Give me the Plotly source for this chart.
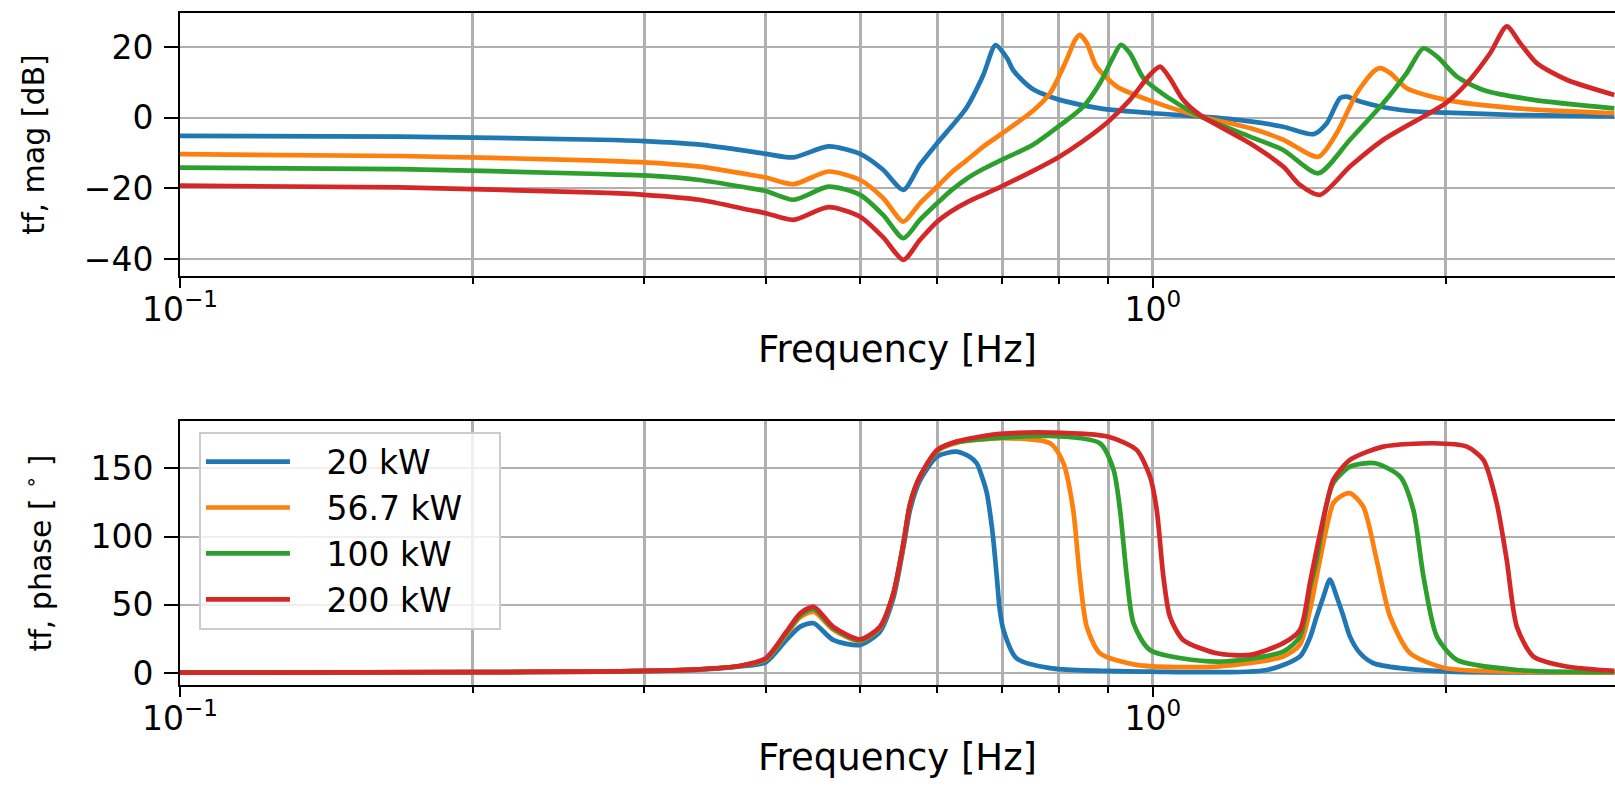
import plotly.graph_objects as go

# Operating points (legend entries) and their line colours
labels = ["20 kW", "56.7 kW", "100 kW", "200 kW"]
colors = ["#1f77b4", "#ff7f0e", "#2ca02c", "#d62728"]

# ---- Magnitude of the transfer function [dB] -------------------------------
f_mag_20 = [0.1, 0.168, 0.27, 0.3, 0.342, 0.385, 0.4, 0.427, 0.464, 0.5, 0.528, 0.554, 0.576,
            0.6, 0.643, 0.669, 0.689, 0.708, 0.718, 0.733, 0.753, 0.784, 0.815, 0.882, 1.0,
            1.118, 1.258, 1.361, 1.462, 1.509, 1.557, 1.582, 1.633, 1.725, 1.867, 2.0, 2.366,
            2.98]
mag_20 = [-5.1, -5.3, -6.2, -6.6, -7.6, -9.5, -10.2, -11.2, -8.1, -10.2, -14.7, -20.4, -13.3,
          -7.2, 2.8, 12.0, 20.6, 16.9, 13.6, 10.8, 8.1, 6.0, 4.6, 2.7, 1.3,
          0.4, -1.0, -2.5, -4.6, -1.5, 5.6, 6.0, 4.6, 3.0, 1.8, 1.5, 0.8,
          0.4]

f_mag_57 = [0.1, 0.168, 0.27, 0.3, 0.342, 0.385, 0.4, 0.427, 0.464, 0.5, 0.528, 0.554, 0.576,
            0.6, 0.62, 0.643, 0.669, 0.699, 0.753, 0.784, 0.815, 0.832, 0.841, 0.855, 0.875,
            0.918, 1.0, 1.118, 1.258, 1.361, 1.479, 1.545, 1.62, 1.685, 1.712, 1.753, 1.823,
            2.0, 2.366, 2.98]
mag_57 = [-10.3, -10.8, -12.1, -12.6, -13.8, -16.1, -16.9, -18.8, -15.2, -17.6, -22.7, -29.4, -24.2,
          -19.5, -15.6, -12.1, -8.2, -4.5, 2.0, 7.0, 16.4, 22.1, 23.5, 21.2, 14.5,
          8.9, 4.6, 0.4, -2.9, -6.2, -11.0, -4.3, 7.0, 13.1, 14.1, 12.7, 8.4,
          5.1, 2.7, 1.3]

f_mag_100 = [0.1, 0.168, 0.27, 0.3, 0.342, 0.385, 0.4, 0.427, 0.464, 0.5, 0.528, 0.554, 0.576,
             0.6, 0.62, 0.643, 0.669, 0.699, 0.753, 0.799, 0.848, 0.882, 0.911, 0.927, 0.947,
             0.978, 1.033, 1.118, 1.258, 1.361, 1.479, 1.594, 1.725, 1.823, 1.897, 1.958,
             2.053, 2.186, 2.461, 2.98]
mag_100 = [-14.1, -14.5, -15.9, -16.3, -17.6, -19.9, -20.7, -23.2, -19.5, -21.8, -27.5, -34.1, -28.9,
           -24.2, -20.6, -17.3, -14.5, -11.9, -7.6, -2.5, 3.2, 9.8, 17.4, 20.7, 18.3,
           11.2, 6.0, 0.4, -5.3, -9.1, -15.7, -6.2, 4.2, 12.7, 19.7, 17.4,
           11.7, 7.9, 5.1, 2.7]

f_mag_200 = [0.1, 0.168, 0.27, 0.3, 0.342, 0.385, 0.4, 0.427, 0.464, 0.5, 0.528, 0.554, 0.576,
             0.6, 0.62, 0.643, 0.669, 0.699, 0.753, 0.799, 0.848, 0.9, 0.947, 0.993, 1.017,
             1.041, 1.074, 1.118, 1.258, 1.361, 1.416, 1.485, 1.594, 1.725, 2.0, 2.102, 2.221,
             2.31, 2.384, 2.48, 2.662, 2.98]
mag_200 = [-19.2, -19.7, -21.2, -21.8, -23.2, -26.1, -27.0, -28.9, -25.3, -28.0, -33.8, -40.2, -34.6,
           -29.4, -26.5, -24.0, -21.8, -19.4, -15.0, -11.2, -6.5, -1.0, 5.1, 12.2, 14.5,
           11.2, 5.1, 0.8, -7.2, -13.8, -19.0, -21.8, -13.8, -6.2, 4.2, 9.8, 18.3,
           25.9, 21.2, 15.5, 10.8, 6.5]

# ---- Phase of the transfer function [deg] ----------------------------------
f_ph_20 = [0.1, 0.2, 0.27, 0.3, 0.342, 0.376, 0.4, 0.42, 0.434, 0.448, 0.469, 0.5, 0.524,
           0.541, 0.554, 0.563, 0.576, 0.6, 0.628, 0.648, 0.659, 0.669, 0.675, 0.683, 0.686,
           0.691, 0.696, 0.702, 0.724, 0.784, 0.993, 1.309, 1.416, 1.45, 1.473, 1.497,
           1.52, 1.545, 1.569, 1.594, 1.633, 1.685, 1.795, 2.02, 2.98]
ph_20 = [0.4, 0.8, 1.2, 1.6, 2.7, 5.0, 8.0, 24.4, 34.1, 36.6, 24.4, 20.7, 30.4,
         55.0, 92.0, 120.0, 141.0, 158.5, 162.1, 158.5, 153.7, 141.4, 131.7, 107.3, 95.1,
         70.7, 46.3, 31.7, 11.0, 3.7, 1.2, 2.4, 12.2, 26.0, 41.4, 56.0,
         68.5, 56.0, 42.0, 26.8, 14.6, 7.3, 3.7, 1.2, 0.7]

f_ph_57 = [0.1, 0.2, 0.27, 0.3, 0.342, 0.376, 0.4, 0.42, 0.434, 0.448, 0.469, 0.5, 0.524,
           0.541, 0.554, 0.563, 0.576, 0.6, 0.628, 0.699, 0.784, 0.809, 0.828, 0.841, 0.855,
           0.882, 0.962, 1.163, 1.361, 1.416, 1.45, 1.473, 1.509, 1.532, 1.557, 1.594,
           1.645, 1.698, 1.753, 1.838, 2.0, 2.366, 2.98]
ph_57 = [0.4, 0.8, 1.2, 1.7, 2.9, 5.3, 10.0, 28.5, 41.0, 45.1, 32.0, 23.5, 33.0,
         58.0, 94.5, 124.0, 143.5, 162.5, 168.5, 172.0, 168.3, 153.7, 119.5, 70.7, 34.1,
         14.6, 6.1, 4.9, 12.2, 21.0, 46.3, 70.7, 107.3, 124.4, 129.2, 131.7,
         121.9, 82.9, 41.4, 14.6, 3.7, 1.2, 0.5]

f_ph_100 = [0.1, 0.2, 0.27, 0.3, 0.342, 0.376, 0.4, 0.42, 0.434, 0.448, 0.469, 0.5, 0.524,
            0.541, 0.554, 0.563, 0.576, 0.6, 0.628, 0.784, 0.882, 0.911, 0.925, 0.94, 0.955,
            0.993, 1.163, 1.361, 1.416, 1.45, 1.473, 1.509, 1.532, 1.594, 1.692, 1.795,
            1.852, 1.897, 1.958, 2.053, 2.366, 2.98]
ph_100 = [0.4, 0.8, 1.2, 1.7, 2.9, 5.3, 10.5, 29.5, 42.5, 47.0, 33.0, 24.0, 33.5,
          58.3, 95.0, 124.2, 143.7, 163.0, 169.0, 173.6, 168.3, 148.8, 119.5, 70.7, 36.6,
          17.0, 8.5, 15.8, 26.8, 62.0, 82.9, 124.4, 139.0, 151.2, 153.7, 143.9,
          119.5, 70.7, 26.8, 9.8, 2.4, 0.8]

f_ph_200 = [0.1, 0.2, 0.27, 0.3, 0.342, 0.376, 0.4, 0.42, 0.434, 0.448, 0.469, 0.5, 0.524,
            0.541, 0.554, 0.563, 0.576, 0.6, 0.628, 0.659, 0.696, 0.784, 0.9, 0.962, 0.993,
            1.009, 1.025, 1.041, 1.074, 1.163, 1.258, 1.361, 1.416, 1.45, 1.473, 1.509,
            1.532, 1.594, 1.725, 1.942, 2.102, 2.186, 2.256, 2.31, 2.366, 2.461, 2.662, 2.98]
ph_200 = [0.4, 0.8, 1.2, 1.7, 2.9, 5.3, 11.0, 30.4, 43.9, 48.7, 34.1, 24.9, 34.1,
          58.5, 95.1, 124.4, 143.9, 163.4, 169.5, 172.7, 175.1, 176.1, 173.1, 163.4, 143.9,
          119.5, 70.7, 41.4, 24.4, 14.6, 13.4, 22.0, 31.7, 66.0, 90.2, 124.4,
          141.4, 156.1, 165.8, 168.3, 165.8, 156.1, 124.4, 82.9, 34.1, 12.2, 4.9, 1.7]

# ---- Axis ticks -------------------------------------------------------------
x_major = [0.1, 1.0]
x_major_text = ["10<sup>\u22121</sup>", "10<sup>0</sup>"]
x_minor = [0.2, 0.3, 0.4, 0.5, 0.6, 0.7, 0.8, 0.9, 2.0, 3.0]
mag_ticks = [-40, -20, 0, 20]
mag_tick_text = ["\u221240", "\u221220", "0", "20"]
ph_ticks = [0, 50, 100, 150]
ph_tick_text = ["0", "50", "100", "150"]

mag_series = [(f_mag_20, mag_20), (f_mag_57, mag_57), (f_mag_100, mag_100), (f_mag_200, mag_200)]
ph_series = [(f_ph_20, ph_20), (f_ph_57, ph_57), (f_ph_100, ph_100), (f_ph_200, ph_200)]

FONT = "DejaVu Sans"
GRID = "#b0b0b0"
LW = 4.7
NB = "\u00a0"


def legend_name(label):
    # pad the entry so the text sits clear of the long legend line
    return NB * 3 + label + NB * 3


fig = go.Figure()
for (fx, fy), name, col in zip(mag_series, labels, colors):
    fig.add_trace(go.Scatter(x=fx, y=fy, mode="lines", name=name, showlegend=False,
                             line=dict(color=col, width=LW, shape="spline", smoothing=0.7),
                             xaxis="x", yaxis="y"))
for (fx, fy), name, col in zip(ph_series, labels, colors):
    fig.add_trace(go.Scatter(x=fx, y=fy, mode="lines", name=legend_name(name), showlegend=True,
                             line=dict(color=col, width=LW, shape="spline", smoothing=0.7),
                             xaxis="x2", yaxis="y2"))

xaxis_common = dict(
    type="log", range=[-1, 0.4749],
    tickmode="array", tickvals=x_major, ticktext=x_major_text,
    ticks="outside", ticklen=10, tickwidth=2, tickcolor="black",
    showgrid=True, gridcolor=GRID, gridwidth=2.6,
    minor=dict(tickmode="array", tickvals=x_minor, ticks="outside", ticklen=6,
               tickwidth=1.6, tickcolor="black", showgrid=True, gridcolor=GRID, gridwidth=2.6),
    showline=True, linecolor="black", linewidth=2, mirror=True,
    zeroline=False,
    tickfont=dict(family=FONT, size=33, color="black"),
    ticklabelstandoff=-7,
    title=dict(text="Frequency [Hz]", font=dict(family=FONT, size=37, color="black"), standoff=8),
)
yaxis_common = dict(
    ticks="outside", ticklen=14, tickwidth=2, tickcolor="black",
    showgrid=True, gridcolor=GRID, gridwidth=2,
    showline=True, linecolor="black", linewidth=2, mirror=False,
    zeroline=False,
    tickfont=dict(family=FONT, size=33, color="black"),
    ticklabelstandoff=4,
)

fig.update_layout(
    width=1615, height=789,
    margin=dict(l=180, r=0, t=13, b=104),
    paper_bgcolor="white", plot_bgcolor="white",
    font=dict(family=FONT, color="black"),
    xaxis=dict(xaxis_common, domain=[0, 1], anchor="y"),
    yaxis=dict(yaxis_common, domain=[0.6086, 1.0], anchor="x", range=[-44.8, 29.7],
               tickmode="array", tickvals=mag_ticks, ticktext=mag_tick_text,
               title=dict(text="tf, mag [dB]", font=dict(family=FONT, size=30, color="black"),
                          standoff=30)),
    xaxis2=dict(xaxis_common, domain=[0, 1], anchor="y2"),
    yaxis2=dict(yaxis_common, domain=[0.0, 0.3929], anchor="x2", range=[-8.6, 184.6],
                tickmode="array", tickvals=ph_ticks, ticktext=ph_tick_text,
                title=dict(text="tf, phase [ <sup>\u2218</sup> ]",
                           font=dict(family=FONT, size=30, color="black"), standoff=30)),
    legend=dict(x=0.0132, y=0.377, xanchor="left", yanchor="top",
                bgcolor="rgba(255,255,255,0.8)", bordercolor="#cccccc", borderwidth=2,
                font=dict(family=FONT, size=33, color="black"),
                itemwidth=84, tracegroupgap=0),
    showlegend=True,
)

fig.write_html("out.html")
